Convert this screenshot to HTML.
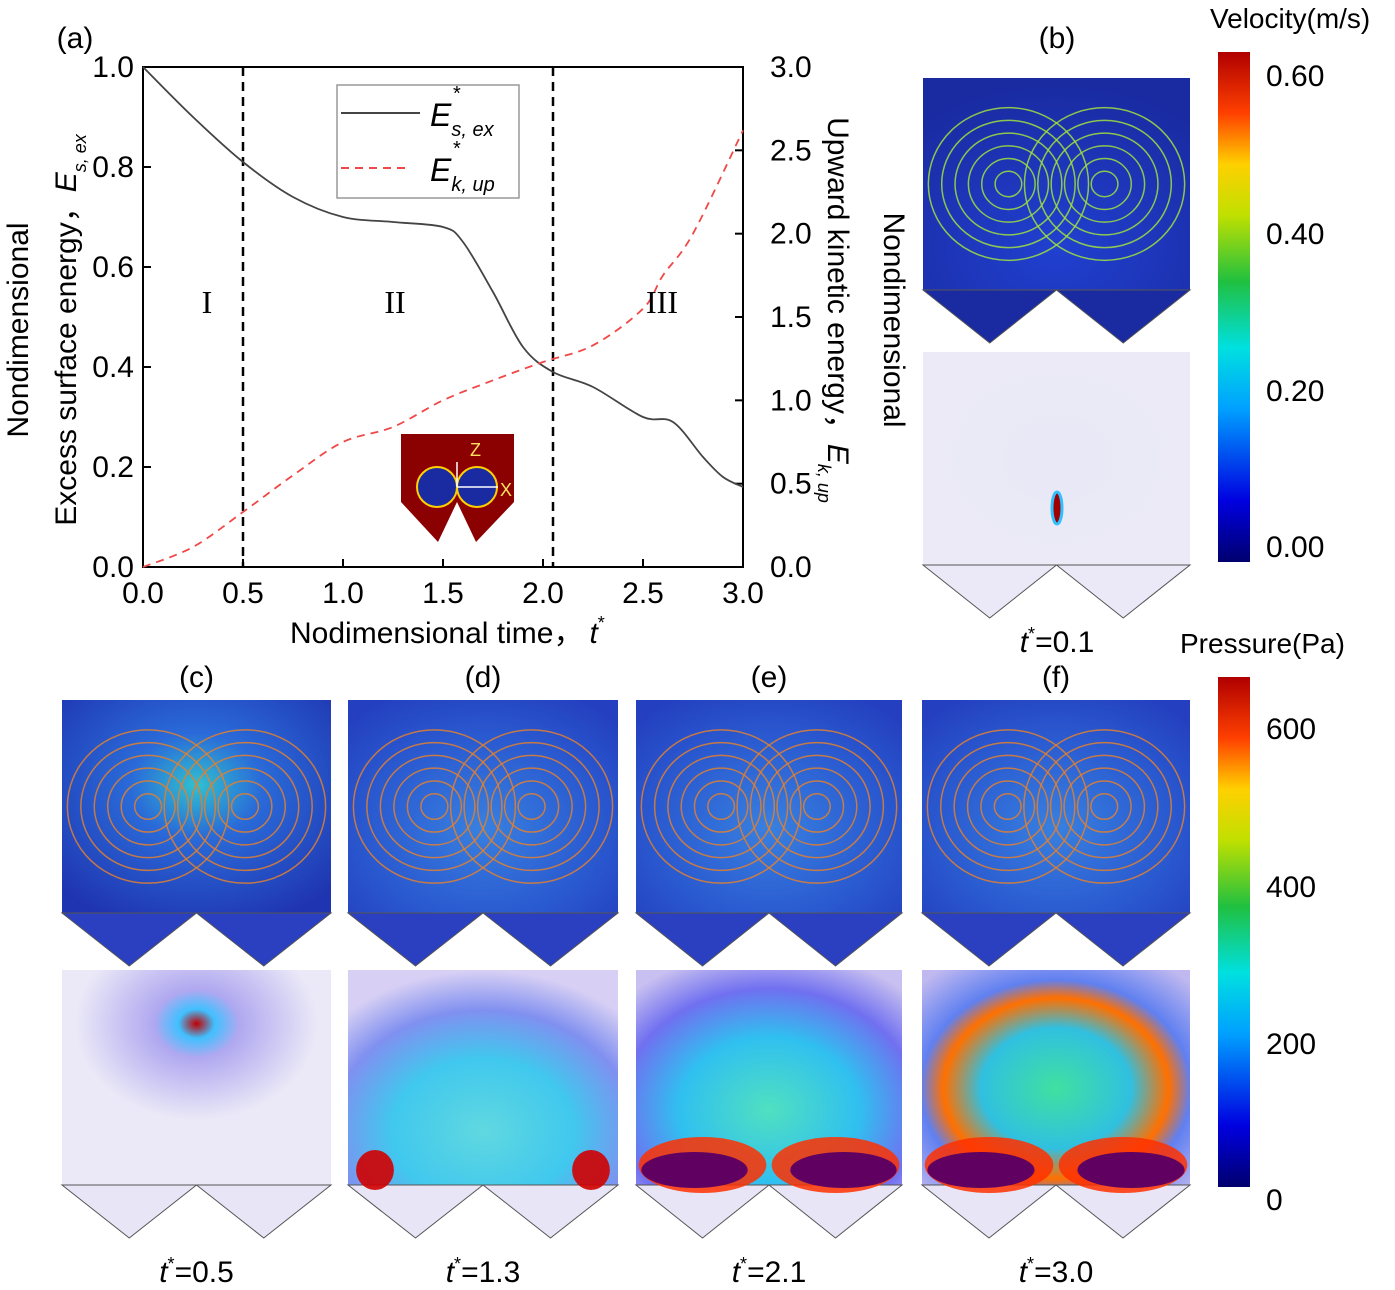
<!DOCTYPE html>
<html><head><meta charset="utf-8">
<style>
body{margin:0;background:#fff;}
svg{display:block;font-family:"Liberation Sans",Arial,sans-serif;}
</style></head>
<body>
<svg id="fig" width="1395" height="1290" viewBox="0 0 1395 1290">
<defs>
<linearGradient id="jet" x1="0" y1="1" x2="0" y2="0">
<stop offset="0" stop-color="#00006e"/><stop offset="0.12" stop-color="#0000e0"/><stop offset="0.3" stop-color="#00a0ff"/><stop offset="0.42" stop-color="#00e0e0"/><stop offset="0.55" stop-color="#20c040"/><stop offset="0.68" stop-color="#c0e000"/><stop offset="0.78" stop-color="#ffd000"/><stop offset="0.88" stop-color="#ff4000"/><stop offset="1" stop-color="#b00000"/>
</linearGradient>
<radialGradient id="velB" cx="0.5" cy="0.8" r="0.8"><stop offset="0" stop-color="#2040d0"/><stop offset="1" stop-color="#1a2aa0"/></radialGradient>
<radialGradient id="velC" cx="0.5" cy="0.4" r="0.7"><stop offset="0" stop-color="#30c0d0"/><stop offset="0.35" stop-color="#2a6ad8"/><stop offset="1" stop-color="#1f34b0"/></radialGradient>
<radialGradient id="velD" cx="0.5" cy="0.6" r="0.7"><stop offset="0" stop-color="#3880e0"/><stop offset="0.6" stop-color="#2a5ad0"/><stop offset="1" stop-color="#2440c0"/></radialGradient>
<radialGradient id="preB" cx="0.5" cy="0.5" r="0.6"><stop offset="0" stop-color="#e8e8f6"/><stop offset="1" stop-color="#eceaf6"/></radialGradient>
<radialGradient id="preC" cx="0.5" cy="0.25" r="0.45"><stop offset="0" stop-color="#c00000"/><stop offset="0.15" stop-color="#40c0ff"/><stop offset="0.35" stop-color="#b0a8f0"/><stop offset="1" stop-color="#ebe9f7"/></radialGradient>
<radialGradient id="preD" cx="0.5" cy="0.75" r="0.75"><stop offset="0" stop-color="#60d8e0"/><stop offset="0.45" stop-color="#40c8ee"/><stop offset="0.75" stop-color="#8090f0"/><stop offset="1" stop-color="#d8d0f4"/></radialGradient>
<radialGradient id="preE" cx="0.5" cy="0.65" r="0.75"><stop offset="0" stop-color="#50e0c0"/><stop offset="0.45" stop-color="#30c0f0"/><stop offset="0.75" stop-color="#7070f0"/><stop offset="1" stop-color="#c8c0f0"/></radialGradient>
<radialGradient id="preF" cx="0.5" cy="0.55" r="0.7"><stop offset="0" stop-color="#40e0a0"/><stop offset="0.4" stop-color="#30c0e0"/><stop offset="0.6" stop-color="#ff7000"/><stop offset="0.72" stop-color="#6080f0"/><stop offset="1" stop-color="#c0b8f0"/></radialGradient>
</defs>
<g id="chart"></g>
<g id="panels"></g>
<rect x="1218" y="52" width="32" height="510" fill="url(#jet)"/>
<rect x="1218" y="677" width="32" height="510" fill="url(#jet)"/>
<text x="1210" y="28" font-size="28">Velocity(m/s)</text>
<text x="1180" y="653" font-size="28">Pressure(Pa)</text>
<g font-size="30">
<text x="1266" y="86">0.60</text><text x="1266" y="244">0.40</text><text x="1266" y="401">0.20</text><text x="1266" y="557">0.00</text></g>
<g font-size="30">
<text x="1266" y="739">600</text><text x="1266" y="897">400</text><text x="1266" y="1054">200</text><text x="1266" y="1210">0</text></g>
</svg>
<script>
const times=[0,0.25,0.5,0.75,1.0,1.25,1.5,1.6,1.75,1.9,2.05,2.25,2.5,2.65,2.8,2.9,3.0];
const surfaceEnergy=[1.0,0.9,0.81,0.74,0.70,0.69,0.68,0.65,0.55,0.44,0.39,0.36,0.30,0.29,0.22,0.18,0.16];
const kTimes=[0,0.25,0.5,0.75,1.0,1.25,1.5,1.75,2.0,2.25,2.5,2.6,2.75,3.0];
const kineticEnergy=[0,0.12,0.33,0.55,0.75,0.84,1.0,1.12,1.23,1.33,1.55,1.75,2.0,2.62];
const xTicks=["0.0","0.5","1.0","1.5","2.0","2.5","3.0"];
const yTicks=["0.0","0.2","0.4","0.6","0.8","1.0"];
const y2Ticks=["0.0","0.5","1.0","1.5","2.0","2.5","3.0"];
const NS="http://www.w3.org/2000/svg";
const L=143,R=743,T=67,B=567;
const xs=v=>L+(v/3)*(R-L), ys=v=>B-v*(B-T), ys2=v=>B-(v/3)*(B-T);
const g=document.getElementById('chart');
function mk(tag,attrs,parent){const e=document.createElementNS(NS,tag);for(const k in attrs)e.setAttribute(k,attrs[k]);(parent||g).appendChild(e);return e;}
function tx(x,y,s,size,anchor,parent){const e=mk('text',{x:x,y:y,'font-size':size,'text-anchor':anchor||'start'},parent);e.textContent=s;return e;}
let f=mk('rect',{x:L,y:T,width:R-L,height:B-T,fill:'none',stroke:'#000','stroke-width':2});


xTicks.forEach(t=>{const x=xs(+t);mk('line',{x1:x,y1:B,x2:x,y2:B-8,stroke:'#000','stroke-width':2});let e=tx(x,603,t,30,'middle');});
yTicks.forEach(t=>{const y=ys(+t);mk('line',{x1:L,y1:y,x2:L+8,y2:y,stroke:'#000','stroke-width':2});let e=tx(134,y+10,t,30,'end');});
y2Ticks.forEach(t=>{const y=ys2(+t);mk('line',{x1:R,y1:y,x2:R-8,y2:y,stroke:'#000','stroke-width':2});let e=tx(770,y+10,t,30,'start');});
[0.5,2.05].forEach(v=>{let l=mk('line',{x1:xs(v),y1:T,x2:xs(v),y2:B,stroke:'#000','stroke-width':2.5,'stroke-dasharray':'9,6'});});
function smooth(px,py){let d='M'+px[0]+','+py[0];for(let i=0;i<px.length-1;i++){const x0=px[i-1]??px[i],y0=py[i-1]??py[i],x3=px[i+2]??px[i+1],y3=py[i+2]??py[i+1];d+=' C'+(px[i]+(px[i+1]-x0)/6)+','+(py[i]+(py[i+1]-y0)/6)+' '+(px[i+1]-(x3-px[i])/6)+','+(py[i+1]-(y3-py[i])/6)+' '+px[i+1]+','+py[i+1];}return d;}
let s1=mk('path',{d:smooth(times.map(xs),surfaceEnergy.map(ys)),fill:'none',stroke:'#444','stroke-width':1.8});


let s2=mk('path',{d:smooth(kTimes.map(xs),kineticEnergy.map(ys2)),fill:'none',stroke:'#f04848','stroke-width':1.8,'stroke-dasharray':'8,6'});


let lg=mk('g',{});


mk('rect',{x:337,y:85,width:182,height:113,fill:'#fff',stroke:'#999','stroke-width':1.5},lg);
mk('line',{x1:341,y1:113,x2:420,y2:113,stroke:'#444','stroke-width':2},lg);
mk('line',{x1:341,y1:168,x2:410,y2:168,stroke:'#f04848','stroke-width':2,'stroke-dasharray':'8,6'},lg);
let t1=mk('text',{x:430,y:126,'font-size':32,'font-style':'italic'},lg);t1.innerHTML='E<tspan font-size="20" dy="10">s, ex</tspan>';
tx(453,100,'*',20,'start',lg);
let t2=mk('text',{x:430,y:181,'font-size':32,'font-style':'italic'},lg);t2.innerHTML='E<tspan font-size="20" dy="10">k, up</tspan>';
tx(453,155,'*',20,'start',lg);
[['I',207],['II',395],['III',662]].forEach(([s,x])=>{let e=mk('text',{x:x,y:313,'font-size':32,'text-anchor':'middle','font-family':'Liberation Serif,serif'});e.textContent=s;});
let xa=mk('text',{x:290,y:643,'font-size':30});xa.innerHTML='Nodimensional time，<tspan font-style="italic" dx="6">t</tspan><tspan font-size="18" dy="-14">*</tspan>';


let ya=mk('text',{transform:'translate(28,330) rotate(-90)','font-size':30,'text-anchor':'middle'});ya.textContent='Nondimensional';


let ya2=mk('text',{transform:'translate(76,330) rotate(-90)','font-size':30,'text-anchor':'middle'});ya2.innerHTML='Excess surface energy，<tspan font-style="italic">E<tspan font-size="18" dy="10">s, ex</tspan></tspan>';
let yr=mk('text',{transform:'translate(828,310) rotate(90)','font-size':30,'text-anchor':'middle'});yr.innerHTML='Upward kinetic energy，<tspan font-style="italic">E<tspan font-size="18" dy="10">k, up</tspan></tspan>';


let yr2=mk('text',{transform:'translate(884,320) rotate(90)','font-size':30,'text-anchor':'middle'});yr2.textContent='Nondimensional';
tx(75,48,'(a)',30,'middle');
let ins=mk('g',{});


mk('rect',{x:401,y:434,width:113,height:68,fill:'#8b0000'},ins);
mk('polygon',{points:'401,502 438,542 457,502 476,542 514,502',fill:'#8b0000'},ins);
mk('circle',{cx:437,cy:487,r:20,fill:'#1a2aa0',stroke:'#ffd000','stroke-width':2},ins);
mk('circle',{cx:477,cy:487,r:20,fill:'#1a2aa0',stroke:'#ffd000','stroke-width':2},ins);
mk('line',{x1:457,y1:487,x2:457,y2:462,stroke:'#fff','stroke-width':1.5},ins);
mk('line',{x1:457,y1:487,x2:498,y2:487,stroke:'#fff','stroke-width':1.5},ins);
tx(470,456,'Z',18,'start',ins).setAttribute('fill','#ffe060');
tx(500,496,'X',18,'start',ins).setAttribute('fill','#ffe060');

const P=document.getElementById('panels');
function panel(x0,x1,y0,y1,fill,vfill,name){
  let gg=mk('g',{},P);
  
  
  const w=x1-x0;
  mk('rect',{x:x0,y:y0,width:w,height:y1-y0,fill:fill},gg);
  mk('polygon',{points:`${x0},${y1} ${x0+w/4},${y1+53} ${x0+w/2},${y1} ${x0+3*w/4},${y1+53} ${x1},${y1}`,fill:vfill,stroke:'#555','stroke-width':1},gg);
  return gg;
}
function streams(gg,x0,x1,y0,y1,col){
  const cx=(x0+x1)/2,w=x1-x0,h=y1-y0;
  for(let i=1;i<=6;i++){mk('ellipse',{cx:cx-w*0.18,cy:y0+h*0.5,rx:w*0.05*i,ry:h*0.06*i,fill:'none',stroke:col,'stroke-width':1.5,opacity:0.85},gg);
  mk('ellipse',{cx:cx+w*0.18,cy:y0+h*0.5,rx:w*0.05*i,ry:h*0.06*i,fill:'none',stroke:col,'stroke-width':1.5,opacity:0.85},gg);}
}
let pb=panel(923,1190,78,290,'url(#velB)','#1a2aa0','velocity-panel-b');streams(pb,923,1190,78,290,'#a0e040');
panel(923,1190,352,565,'url(#preB)','#ebe9f7','pressure-panel-b');
mk('ellipse',{cx:1057,cy:508,rx:5,ry:16,fill:'#a00000',stroke:'#30c0ff','stroke-width':3},P);
tx(1057,48,'(b)',30,'middle',P);
let tb=mk('text',{x:1057,y:652,'font-size':30,'text-anchor':'middle'},P);tb.innerHTML='<tspan font-style="italic">t</tspan><tspan font-size="18" dy="-12">*</tspan><tspan dy="12">=0.1</tspan>';
const cols=[[62,331,'c','0.5','url(#velC)','url(#preC)'],[348,618,'d','1.3','url(#velD)','url(#preD)'],[636,902,'e','2.1','url(#velD)','url(#preE)'],[922,1190,'f','3.0','url(#velD)','url(#preF)']];
cols.forEach(([a,b,l,t,vf,pf])=>{
  let v=panel(a,b,700,913,vf,'#2a40c0','velocity-panel-'+l);streams(v,a,b,700,913,'#e08030');
  let p=panel(a,b,970,1185,pf,'#e8e6f6','pressure-panel-'+l);
  const w=b-a;
  if(l==='d'){mk('ellipse',{cx:a+w*0.1,cy:1170,rx:w*0.07,ry:20,fill:'#d00000',opacity:0.9},p);mk('ellipse',{cx:a+w*0.9,cy:1170,rx:w*0.07,ry:20,fill:'#d00000',opacity:0.9},p);}
  if(l==='e'||l==='f'){
    mk('ellipse',{cx:a+w*0.25,cy:1165,rx:w*0.24,ry:28,fill:'#ff3000',opacity:0.85},p);mk('ellipse',{cx:a+w*0.75,cy:1165,rx:w*0.24,ry:28,fill:'#ff3000',opacity:0.85},p);
    mk('ellipse',{cx:a+w*0.22,cy:1170,rx:w*0.2,ry:18,fill:'#600060'},p);mk('ellipse',{cx:a+w*0.78,cy:1170,rx:w*0.2,ry:18,fill:'#600060'},p);}
  tx((a+b)/2,687,'('+l+')',30,'middle',P);
  let e=mk('text',{x:(a+b)/2,y:1282,'font-size':30,'text-anchor':'middle'},P);
  e.innerHTML='<tspan font-style="italic">t</tspan><tspan font-size="18" dy="-12">*</tspan><tspan dy="12">='+t+'</tspan>';
  
  
});
</script>
</body></html>
